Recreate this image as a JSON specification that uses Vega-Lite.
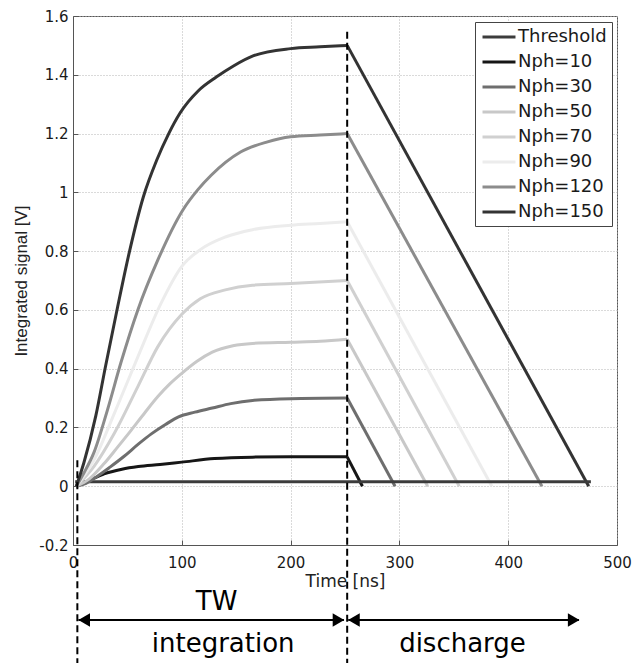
{
  "$schema": "https://vega.github.io/schema/vega-lite/v6.json",
  "width": 544,
  "height": 529,
  "autosize": {"type": "none"},
  "padding": {"left": 73, "top": 16, "right": 18, "bottom": 118},
  "background": "white",
  "config": {
    "view": {"stroke": "#555555", "strokeWidth": 1},
    "font": "DejaVu Sans"
  },
  "datasets": {
    "rise": [
      {"s": "Threshold", "t": 2, "v": 0.015}, {"s": "Threshold", "t": 476, "v": 0.015},

      {"s": "Nph=10", "t": 3, "v": 0}, {"s": "Nph=10", "t": 8, "v": 0.008}, {"s": "Nph=10", "t": 16, "v": 0.021},
      {"s": "Nph=10", "t": 28.6, "v": 0.042}, {"s": "Nph=10", "t": 45, "v": 0.058}, {"s": "Nph=10", "t": 60, "v": 0.067},
      {"s": "Nph=10", "t": 80, "v": 0.074}, {"s": "Nph=10", "t": 100, "v": 0.082}, {"s": "Nph=10", "t": 130, "v": 0.094},
      {"s": "Nph=10", "t": 165, "v": 0.099}, {"s": "Nph=10", "t": 200, "v": 0.1}, {"s": "Nph=10", "t": 252, "v": 0.1},

      {"s": "Nph=30", "t": 3, "v": 0}, {"s": "Nph=30", "t": 12, "v": 0.01}, {"s": "Nph=30", "t": 22.4, "v": 0.034},
      {"s": "Nph=30", "t": 34, "v": 0.065}, {"s": "Nph=30", "t": 47, "v": 0.102}, {"s": "Nph=30", "t": 60, "v": 0.143},
      {"s": "Nph=30", "t": 72, "v": 0.178}, {"s": "Nph=30", "t": 85, "v": 0.21}, {"s": "Nph=30", "t": 97, "v": 0.236},
      {"s": "Nph=30", "t": 112, "v": 0.252}, {"s": "Nph=30", "t": 128, "v": 0.266}, {"s": "Nph=30", "t": 145, "v": 0.281},
      {"s": "Nph=30", "t": 165, "v": 0.292}, {"s": "Nph=30", "t": 200, "v": 0.298}, {"s": "Nph=30", "t": 252, "v": 0.3},

      {"s": "Nph=50", "t": 3, "v": 0}, {"s": "Nph=50", "t": 15, "v": 0.025}, {"s": "Nph=50", "t": 28.6, "v": 0.077},
      {"s": "Nph=50", "t": 41, "v": 0.133}, {"s": "Nph=50", "t": 53.4, "v": 0.19}, {"s": "Nph=50", "t": 66, "v": 0.25},
      {"s": "Nph=50", "t": 78, "v": 0.305}, {"s": "Nph=50", "t": 89, "v": 0.348}, {"s": "Nph=50", "t": 100, "v": 0.384},
      {"s": "Nph=50", "t": 114, "v": 0.425}, {"s": "Nph=50", "t": 128, "v": 0.456}, {"s": "Nph=50", "t": 147, "v": 0.478},
      {"s": "Nph=50", "t": 165, "v": 0.486}, {"s": "Nph=50", "t": 200, "v": 0.49}, {"s": "Nph=50", "t": 227, "v": 0.493},
      {"s": "Nph=50", "t": 252, "v": 0.5},

      {"s": "Nph=70", "t": 3, "v": 0}, {"s": "Nph=70", "t": 19, "v": 0.066}, {"s": "Nph=70", "t": 38, "v": 0.18},
      {"s": "Nph=70", "t": 59.6, "v": 0.339}, {"s": "Nph=70", "t": 78, "v": 0.475}, {"s": "Nph=70", "t": 100, "v": 0.585},
      {"s": "Nph=70", "t": 117, "v": 0.638}, {"s": "Nph=70", "t": 140, "v": 0.668}, {"s": "Nph=70", "t": 165, "v": 0.684},
      {"s": "Nph=70", "t": 200, "v": 0.69}, {"s": "Nph=70", "t": 252, "v": 0.7},

      {"s": "Nph=90", "t": 3, "v": 0}, {"s": "Nph=90", "t": 19.3, "v": 0.089}, {"s": "Nph=90", "t": 38, "v": 0.248},
      {"s": "Nph=90", "t": 59.6, "v": 0.44}, {"s": "Nph=90", "t": 81, "v": 0.623}, {"s": "Nph=90", "t": 100, "v": 0.748},
      {"s": "Nph=90", "t": 117, "v": 0.805}, {"s": "Nph=90", "t": 140, "v": 0.848}, {"s": "Nph=90", "t": 165, "v": 0.873},
      {"s": "Nph=90", "t": 200, "v": 0.888}, {"s": "Nph=90", "t": 227, "v": 0.894}, {"s": "Nph=90", "t": 252, "v": 0.9},

      {"s": "Nph=120", "t": 3, "v": 0}, {"s": "Nph=120", "t": 10, "v": 0.045}, {"s": "Nph=120", "t": 19.3, "v": 0.115},
      {"s": "Nph=120", "t": 31.7, "v": 0.26}, {"s": "Nph=120", "t": 44, "v": 0.42}, {"s": "Nph=120", "t": 59.6, "v": 0.6},
      {"s": "Nph=120", "t": 78, "v": 0.77}, {"s": "Nph=120", "t": 101, "v": 0.94}, {"s": "Nph=120", "t": 115, "v": 1.01},
      {"s": "Nph=120", "t": 127, "v": 1.058}, {"s": "Nph=120", "t": 154, "v": 1.137}, {"s": "Nph=120", "t": 178, "v": 1.171},
      {"s": "Nph=120", "t": 200, "v": 1.189}, {"s": "Nph=120", "t": 227, "v": 1.195}, {"s": "Nph=120", "t": 252, "v": 1.2},

      {"s": "Nph=150", "t": 3, "v": 0}, {"s": "Nph=150", "t": 10, "v": 0.08}, {"s": "Nph=150", "t": 21, "v": 0.24},
      {"s": "Nph=150", "t": 30, "v": 0.41}, {"s": "Nph=150", "t": 41, "v": 0.61}, {"s": "Nph=150", "t": 52, "v": 0.8},
      {"s": "Nph=150", "t": 64.7, "v": 0.985}, {"s": "Nph=150", "t": 77, "v": 1.11}, {"s": "Nph=150", "t": 88, "v": 1.2},
      {"s": "Nph=150", "t": 98.4, "v": 1.27}, {"s": "Nph=150", "t": 115, "v": 1.345}, {"s": "Nph=150", "t": 132, "v": 1.393},
      {"s": "Nph=150", "t": 147.5, "v": 1.43}, {"s": "Nph=150", "t": 166, "v": 1.465}, {"s": "Nph=150", "t": 200, "v": 1.489},
      {"s": "Nph=150", "t": 227, "v": 1.495}, {"s": "Nph=150", "t": 252, "v": 1.5}
    ],
    "fall": [
      {"s": "Nph=10", "t": 252, "v": 0.1}, {"s": "Nph=10", "t": 266, "v": 0},
      {"s": "Nph=30", "t": 252, "v": 0.3}, {"s": "Nph=30", "t": 296, "v": 0},
      {"s": "Nph=50", "t": 252, "v": 0.5}, {"s": "Nph=50", "t": 326, "v": 0},
      {"s": "Nph=70", "t": 252, "v": 0.7}, {"s": "Nph=70", "t": 355, "v": 0},
      {"s": "Nph=90", "t": 252, "v": 0.9}, {"s": "Nph=90", "t": 385, "v": 0},
      {"s": "Nph=120", "t": 252, "v": 1.2}, {"s": "Nph=120", "t": 431, "v": 0},
      {"s": "Nph=150", "t": 252, "v": 1.5}, {"s": "Nph=150", "t": 474, "v": 0}
    ],
    "dashes": [
      {"t": 4, "v1": 0.088, "v2": -0.62},
      {"t": 252, "v1": 1.546, "v2": -0.62}
    ],
    "arrows": [
      {"a": 5, "b": 249, "v": -0.455},
      {"a": 253, "b": 465, "v": -0.455}
    ],
    "heads": [
      {"t": 10.3, "v": -0.455, "shape": "triangle-left"},
      {"t": 244, "v": -0.455, "shape": "triangle-right"},
      {"t": 258.2, "v": -0.455, "shape": "triangle-left"},
      {"t": 460.2, "v": -0.455, "shape": "triangle-right"}
    ],
    "labels": [
      {"t": 132, "v": -0.422, "label": "TW"},
      {"t": 138, "v": -0.564, "label": "integration"},
      {"t": 358, "v": -0.564, "label": "discharge"}
    ]
  },
  "layer": [
    {
      "data": {"name": "fall"},
      "mark": {"type": "line", "strokeWidth": 3, "strokeJoin": "round", "strokeCap": "butt"},
      "encoding": {
        "x": {
          "field": "t", "type": "quantitative",
          "scale": {"domain": [0, 500], "nice": false, "zero": false},
          "axis": {
            "values": [0, 100, 200, 300, 400, 500],
            "title": "Time [ns]",
            "grid": true, "gridColor": "#b5b5b5", "gridDash": [1, 2], "gridWidth": 1,
            "domainColor": "#555555", "tickColor": "#555555", "tickSize": -5,
            "labelFont": "DejaVu Sans", "labelFontSize": 15, "labelColor": "#1a1a1a", "labelPadding": 15,
            "labelFlush": false, "labelOverlap": false,
            "titleFont": "DejaVu Sans", "titleFontSize": 17, "titleFontWeight": "normal", "titleColor": "#222222",
            "titlePadding": 3
          }
        },
        "y": {
          "field": "v", "type": "quantitative",
          "scale": {"domain": [-0.2, 1.6], "nice": false, "zero": false},
          "axis": {
            "values": [-0.2, 0, 0.2, 0.4, 0.6, 0.8, 1, 1.2, 1.4, 1.6],
            "format": "~g",
            "labelExpr": "replace(datum.label, '−', '-')",
            "title": "Integrated signal [V]",
            "grid": true, "gridColor": "#b5b5b5", "gridDash": [1, 2], "gridWidth": 1,
            "domainColor": "#555555", "tickColor": "#555555", "tickSize": -5,
            "labelFont": "DejaVu Sans", "labelFontSize": 15, "labelColor": "#1a1a1a", "labelPadding": 10,
            "labelFlush": false, "labelOverlap": false,
            "titleFont": "Liberation Sans", "titleFontSize": 17, "titleFontWeight": "normal", "titleColor": "#222222",
            "titlePadding": 8
          }
        },
        "color": {
          "field": "s", "type": "nominal",
          "scale": {
            "domain": ["Threshold", "Nph=10", "Nph=30", "Nph=50", "Nph=70", "Nph=90", "Nph=120", "Nph=150"],
            "range": ["#3c3c3c", "#161616", "#6e6e6e", "#c8c8c8", "#d0d0d0", "#ececec", "#8c8c8c", "#333333"]
          },
          "legend": {
            "orient": "none", "legendX": 402, "legendY": 6,
            "title": null,
            "symbolType": "M-2,0L2,0", "symbolStrokeWidth": 3, "symbolSize": 272,
            "symbolOffset": 9,
            "labelFont": "DejaVu Sans", "labelFontSize": 18, "labelColor": "#1a1a1a", "labelOffset": 9,
            "rowPadding": 6,
            "strokeColor": "#444444", "fillColor": "white", "padding": 5
          }
        }
      }
    },
    {
      "data": {"name": "rise"},
      "mark": {"type": "line", "strokeWidth": 3, "strokeJoin": "round", "strokeCap": "butt", "interpolate": "monotone"},
      "encoding": {
        "x": {"field": "t", "type": "quantitative", "scale": {"domain": [0, 500], "nice": false, "zero": false}},
        "y": {"field": "v", "type": "quantitative", "scale": {"domain": [-0.2, 1.6], "nice": false, "zero": false}},
        "color": {
          "field": "s", "type": "nominal",
          "scale": {
            "domain": ["Threshold", "Nph=10", "Nph=30", "Nph=50", "Nph=70", "Nph=90", "Nph=120", "Nph=150"],
            "range": ["#3c3c3c", "#161616", "#6e6e6e", "#c8c8c8", "#d0d0d0", "#ececec", "#8c8c8c", "#333333"]
          },
          "legend": {
            "orient": "none", "legendX": 402, "legendY": 6,
            "title": null,
            "symbolType": "M-2,0L2,0", "symbolStrokeWidth": 3, "symbolSize": 272,
            "symbolOffset": 9,
            "labelFont": "DejaVu Sans", "labelFontSize": 18, "labelColor": "#1a1a1a", "labelOffset": 9,
            "rowPadding": 6,
            "strokeColor": "#444444", "fillColor": "white", "padding": 5
          }
        }
      }
    },
    {
      "data": {"name": "arrows"},
      "mark": {"type": "rule", "strokeWidth": 2, "color": "black"},
      "encoding": {
        "x": {"field": "a", "type": "quantitative", "scale": {"domain": [0, 500], "nice": false, "zero": false}},
        "x2": {"field": "b"},
        "y": {"field": "v", "type": "quantitative", "scale": {"domain": [-0.2, 1.6], "nice": false, "zero": false}}
      }
    },
    {
      "data": {"name": "heads"},
      "mark": {"type": "point", "filled": true, "color": "black", "opacity": 1, "size": 180},
      "encoding": {
        "x": {"field": "t", "type": "quantitative", "scale": {"domain": [0, 500], "nice": false, "zero": false}},
        "y": {"field": "v", "type": "quantitative", "scale": {"domain": [-0.2, 1.6], "nice": false, "zero": false}},
        "shape": {"field": "shape", "type": "nominal", "scale": null}
      }
    },
    {
      "data": {"name": "labels"},
      "mark": {"type": "text", "font": "DejaVu Sans", "fontSize": 26, "color": "black", "align": "center", "baseline": "alphabetic"},
      "encoding": {
        "x": {"field": "t", "type": "quantitative", "scale": {"domain": [0, 500], "nice": false, "zero": false}},
        "y": {"field": "v", "type": "quantitative", "scale": {"domain": [-0.2, 1.6], "nice": false, "zero": false}},
        "text": {"field": "label"}
      }
    },
    {
      "data": {"name": "dashes"},
      "mark": {"type": "rule", "strokeWidth": 2, "color": "black", "strokeDash": [7, 4]},
      "encoding": {
        "x": {"field": "t", "type": "quantitative", "scale": {"domain": [0, 500], "nice": false, "zero": false}},
        "y": {"field": "v1", "type": "quantitative", "scale": {"domain": [-0.2, 1.6], "nice": false, "zero": false}},
        "y2": {"field": "v2"}
      }
    }
  ]
}
